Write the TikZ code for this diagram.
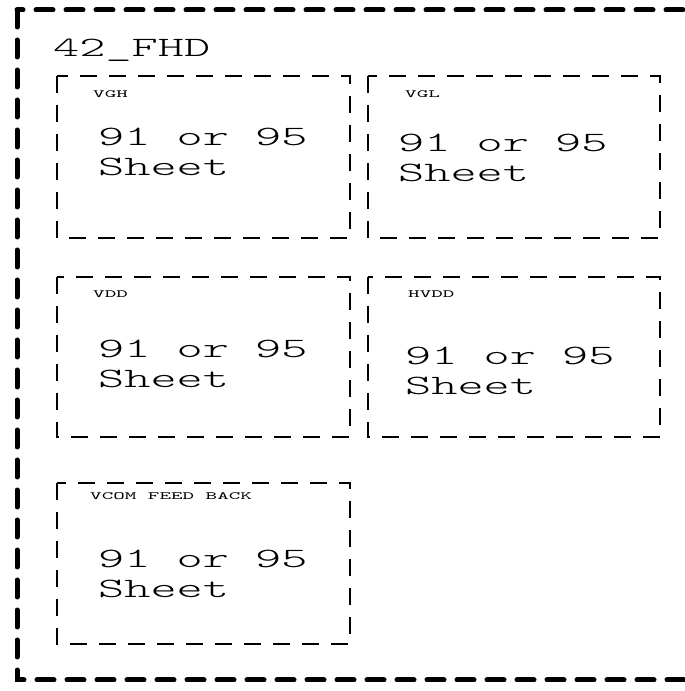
\documentclass[tikz,border=0pt]{standalone}
\usepackage{fontspec}
\newfontfamily\bigmono[Extension=.otf, FakeStretch=1.78]{lmmonolt10-regular}
\newfontfamily\smallmono[Extension=.otf, FakeStretch=2.0]{lmmono10-regular}
\tikzset{
  outerbox/.style={draw=black, line width=5pt, line cap=round, dash pattern=on 17pt off 13pt},
  innerbox/.style={draw=black, line width=2.8pt, dash pattern=on 17pt off 12pt},
  titletext/.style={anchor=base west, inner sep=0pt, font=\bigmono\fontsize{28}{30}\selectfont},
  bigtext/.style={anchor=base west, inner sep=0pt, align=left, font=\bigmono\fontsize{28}{30}\selectfont},
  labeltext/.style={anchor=base west, inner sep=0pt, font=\smallmono\fontsize{11}{13}\selectfont},
}
\begin{document}
\begin{tikzpicture}[x=1pt,y=1pt]
\useasboundingbox (0,0) rectangle (685,691);
\clip (0,0) rectangle (685,691);
% outer box (image y -> 691-y)
\draw[outerbox] (17,681) rectangle (700,11);
\node[titletext] (title) at (53,634) {42\_FHD};
% inner boxes
\draw[innerbox] (57,615) rectangle (350,453);
\draw[innerbox] (368,615) rectangle (660,453);
\draw[innerbox] (57,414) rectangle (350,254);
\draw[innerbox] (368,414) rectangle (660,254);
\draw[innerbox] (57,208) rectangle (350,47);
% labels
\node[labeltext] (lvgh) at (93,593) {VGH};
\node[labeltext] (lvgl) at (405,593) {VGL};
\node[labeltext] (lvdd) at (93,393) {VDD};
\node[labeltext] (lhvdd) at (408,393) {HVDD};
\node[labeltext] (lvcom) at (90,191) {VCOM FEED BACK};
% texts (base anchor = baseline of the last line)
\node[bigtext] (tvgh) at (98,515) {91 or 95\\Sheet};
\node[bigtext] (tvgl) at (398,509) {91 or 95\\Sheet};
\node[bigtext] (tvdd) at (98,303) {91 or 95\\Sheet};
\node[bigtext] (thvdd) at (405,296) {91 or 95\\Sheet};
\node[bigtext] (tvcom) at (98,93) {91 or 95\\Sheet};
\end{tikzpicture}
\end{document}
